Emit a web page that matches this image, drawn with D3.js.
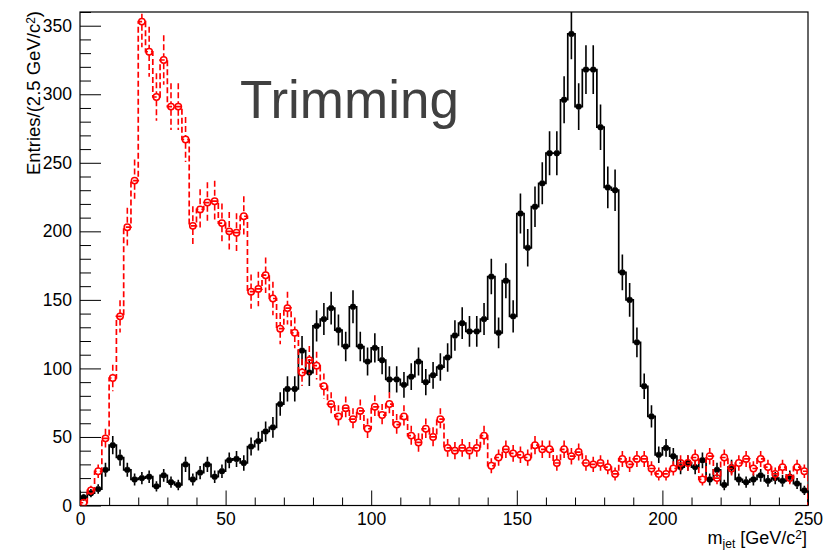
<!DOCTYPE html>
<html lang="en">
<head>
<meta charset="utf-8">
<title>Trimming</title>
<script type="text/javascript" src="https://d3js.org/d3.v7.min.js"></script>
<style>
  body { margin: 0; background: #fff; }
  svg { display: block; font-family: "Liberation Sans", Arial, Helvetica, sans-serif; }
  .tick text { font-size: 17.5px; fill: #000; }
  .tick line { stroke: #000; stroke-width: 1; }
</style>
</head>
<body>
<div id="chart"></div>
<script type="text/javascript">
// binning: 100 bins of 2.5 GeV/c^2 from 0 to 250
const xMin = 0;
const xMax = 250;
const binWidth = 2.5;

// black histogram (solid line, full markers)
const sigCounts = [
  6, 9, 12, 26, 44, 35, 26, 19, 20, 21,
  14, 22, 17, 15, 30, 19, 24, 30, 21, 25,
  33, 34, 31, 43, 47, 54, 57, 74, 85, 85,
  113, 97, 131, 136, 144, 128, 116, 145, 116, 105,
  115, 106, 92, 92, 88, 94, 105, 90, 95, 101,
  108, 124, 133, 127, 127, 136, 167, 126, 164, 138,
  213, 188, 218, 235, 257, 257, 296, 344, 291, 318,
  318, 276, 232, 230, 170, 150, 119, 87, 65, 37,
  42, 36, 28, 31, 28, 33, 19, 26, 15, 28,
  19, 17, 19, 22, 18, 20, 18, 21, 16, 11
];

// red histogram (dashed line, open markers)
const bkgCounts = [
  2, 11, 25, 49, 93, 138, 203, 237, 353, 331,
  298, 325, 291, 291, 267, 204, 216, 221, 222, 206,
  200, 199, 211, 156, 158, 168, 151, 129, 144, 126,
  97, 106, 102, 87, 74, 65, 71, 63, 69, 56,
  72, 66, 74, 59, 65, 51, 46, 56, 50, 63,
  42, 40, 42, 40, 42, 51, 29, 35, 41, 38,
  37, 35, 44, 41, 41, 31, 41, 36, 39, 31,
  30, 31, 28, 23, 34, 30, 34, 34, 27, 23,
  23, 27, 31, 31, 35, 19, 36, 20, 35, 27,
  31, 34, 27, 34, 28, 23, 28, 20, 28, 25
];

const xTicks = [0, 50, 100, 150, 200, 250];
const yTicks = [0, 50, 100, 150, 200, 250, 300, 350];
const yMax = 360;

const width = 831;
const height = 550;

const svg = d3.select("#chart")
  .append("svg")
  .attr("width", width)
  .attr("height", height);

const x = d3.scaleLinear().domain([xMin, xMax]).range([80, 808]);
const y = d3.scaleLinear().domain([0, yMax]).range([505.5, 12]);

svg.append("clipPath")
  .attr("id", "plot-clip")
  .append("rect")
  .attr("x", x(xMin))
  .attr("y", y(yMax))
  .attr("width", x(xMax) - x(xMin))
  .attr("height", y(0) - y(yMax));

// axes (ROOT style, ticks pointing inward)
const xMinor = d3.range(xMin, xMax + 1, 10).filter(d => d % 50 !== 0);
const yMinor = d3.range(0, yMax + 1, 10).filter(d => d % 50 !== 0);

svg.append("g")
  .attr("transform", "translate(0,505.5)")
  .call(d3.axisBottom(x).tickValues(xMinor).tickSize(-8).tickFormat(""))
  .call(g => g.select(".domain").remove());

svg.append("g")
  .attr("transform", "translate(0,505.5)")
  .call(d3.axisBottom(x).tickValues(xTicks).tickSize(-15).tickPadding(7).tickFormat(d3.format("d")))
  .call(g => g.select(".domain").remove());

svg.append("g")
  .attr("transform", "translate(80,0)")
  .call(d3.axisLeft(y).tickValues(yMinor).tickSize(-11).tickFormat(""))
  .call(g => g.select(".domain").remove());

svg.append("g")
  .attr("transform", "translate(80,0)")
  .call(d3.axisLeft(y).tickValues(yTicks).tickSize(-21).tickPadding(8).tickFormat(d3.format("d")))
  .call(g => g.select(".domain").remove());

// frame
svg.append("rect")
  .attr("x", x(xMin))
  .attr("y", y(yMax))
  .attr("width", x(xMax) - x(xMin))
  .attr("height", y(0) - y(yMax))
  .attr("fill", "none")
  .attr("stroke", "#000")
  .attr("stroke-width", 1.2);

function stepPoints(counts) {
  const pts = [[xMin, 0]];
  counts.forEach((v, i) => pts.push([xMin + i * binWidth, v]));
  pts.push([xMax, counts[counts.length - 1]]);
  pts.push([xMax, 0]);
  return pts;
}

const stepLine = d3.line()
  .x(d => x(d[0]))
  .y(d => y(d[1]))
  .curve(d3.curveStepAfter);

function drawHist(counts, color, dash, markerR, open) {
  const g = svg.append("g").attr("clip-path", "url(#plot-clip)");

  g.append("path")
    .attr("d", stepLine(stepPoints(counts)))
    .attr("fill", "none")
    .attr("stroke", color)
    .attr("stroke-width", 1.7)
    .attr("stroke-dasharray", dash);

  const pts = counts.map((v, i) => ({ c: xMin + (i + 0.5) * binWidth, v: v, e: Math.sqrt(v) }));

  // error bars, broken around the marker
  g.selectAll("line.up")
    .data(pts)
    .join("line")
    .attr("x1", d => x(d.c)).attr("x2", d => x(d.c))
    .attr("y1", d => y(d.v + d.e))
    .attr("y2", d => Math.max(y(d.v + d.e), y(d.v) - markerR))
    .attr("stroke", color).attr("stroke-width", 1.6)
    .attr("stroke-dasharray", dash);

  g.selectAll("line.down")
    .data(pts)
    .join("line")
    .attr("x1", d => x(d.c)).attr("x2", d => x(d.c))
    .attr("y1", d => Math.min(y(d.v - d.e), y(d.v) + markerR))
    .attr("y2", d => y(Math.max(0, d.v - d.e)))
    .attr("stroke", color).attr("stroke-width", 1.6)
    .attr("stroke-dasharray", dash);

  g.selectAll("circle")
    .data(pts)
    .join("circle")
    .attr("cx", d => x(d.c))
    .attr("cy", d => y(d.v))
    .attr("r", markerR)
    .attr("fill", open ? "none" : color)
    .attr("stroke", color)
    .attr("stroke-width", open ? 1.5 : 0.6);
}

drawHist(sigCounts, "#000", null, 2.9, false);
drawHist(bkgCounts, "#ff0000", "6,3", 3.2, true);

// title
svg.append("text")
  .attr("x", 240)
  .attr("y", 118)
  .attr("font-size", 53)
  .attr("fill", "#404040")
  .text("Trimming");

// axis titles
const yTitle = svg.append("text")
  .attr("transform", "translate(40,11) rotate(-90)")
  .attr("text-anchor", "end")
  .attr("font-size", 18.5)
  .attr("fill", "#000");
yTitle.append("tspan").text("Entries/(2.5 GeV/c");
yTitle.append("tspan").attr("font-size", 12).attr("baseline-shift", "45%").text("2");
yTitle.append("tspan").text(")");

const xTitle = svg.append("text")
  .attr("x", 807)
  .attr("y", 544)
  .attr("text-anchor", "end")
  .attr("font-size", 18)
  .attr("fill", "#000");
xTitle.append("tspan").text("m");
xTitle.append("tspan").attr("font-size", 12).attr("baseline-shift", "-30%").text("jet");
xTitle.append("tspan").attr("dx", 5).text("[GeV/c");
xTitle.append("tspan").attr("font-size", 12).attr("baseline-shift", "40%").text("2");
xTitle.append("tspan").text("]");
</script>
</body>
</html>
